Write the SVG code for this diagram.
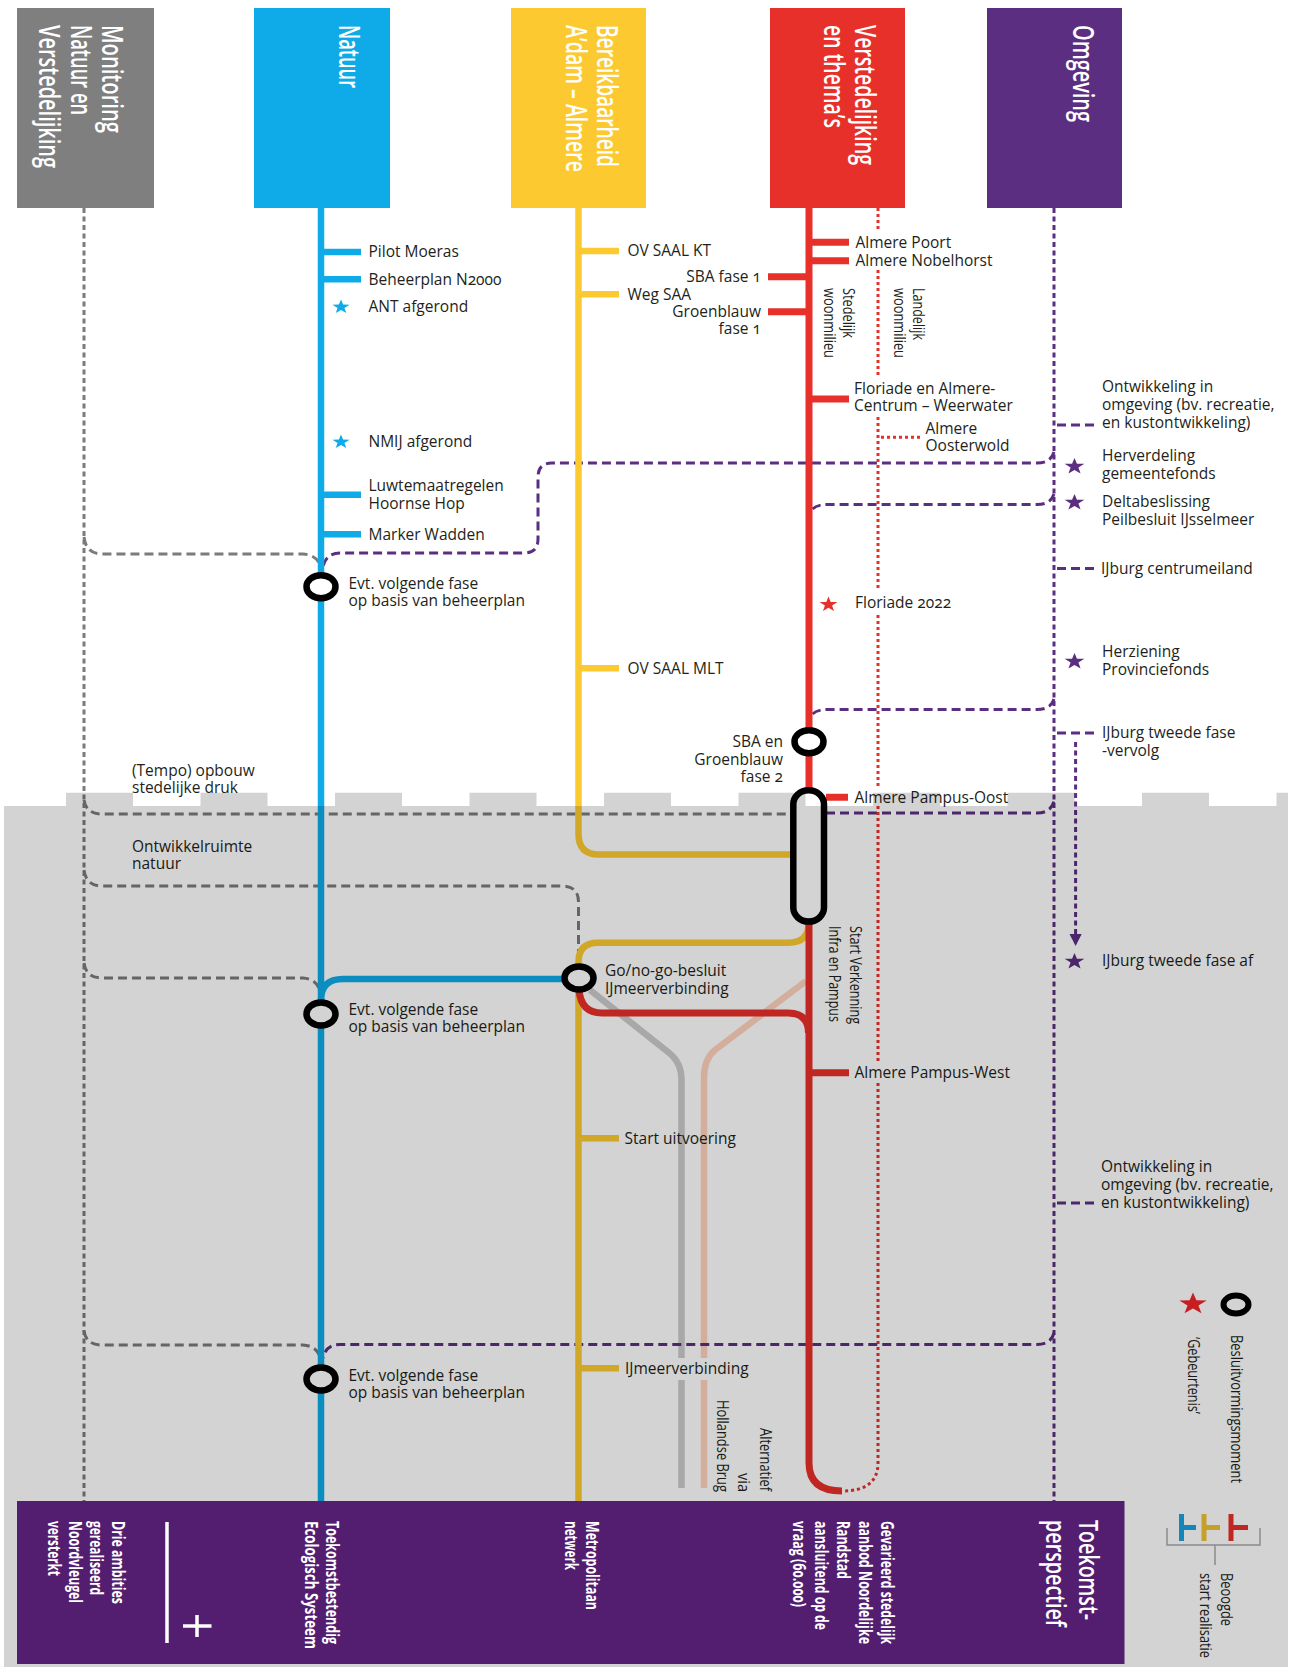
<svg xmlns="http://www.w3.org/2000/svg" xmlns:xlink="http://www.w3.org/1999/xlink" width="1296" height="1667" viewBox="0 0 1296 1667">
<defs>
<style>
.lbl{font-family:"Open Sans","Liberation Sans",sans-serif;font-size:15.5px;fill:#231f20}
.end{text-anchor:end}
.rot{font-family:"Open Sans","Liberation Sans",sans-serif;font-size:16px;fill:#231f20}
.hdr{font-family:"Open Sans","Liberation Sans",sans-serif;font-size:28px;font-weight:600;fill:#fff}
.ftr{font-family:"Open Sans","Liberation Sans",sans-serif;font-size:17px;font-weight:700;fill:#fff}
.ftrb{font-family:"Open Sans","Liberation Sans",sans-serif;font-size:27px;font-weight:600;fill:#fff}
.blue{stroke:#0fabe8;stroke-width:6.5;fill:none}
.yel{stroke:#fcca30;stroke-width:6.5;fill:none}
.red{stroke:#e8302a;stroke-width:7;fill:none}
.gv{stroke:#7b7b7b;stroke-width:3;stroke-dasharray:5 3.5;fill:none}
.gh{stroke:#7b7b7b;stroke-width:3;stroke-dasharray:9 5;fill:none}
.pv{stroke:#5c2e82;stroke-width:3;stroke-dasharray:5 3.5;fill:none}
.ph{stroke:#5c2e82;stroke-width:3;stroke-dasharray:9 5;fill:none}
.rdot{stroke:#e8302a;stroke-width:3;stroke-dasharray:3 3;fill:none}
.alt1{stroke:#cbcbcb;stroke-width:6.5;fill:none}
.alt2{stroke:#ffd3bd;stroke-width:6.5;fill:none}
.ring{fill:#fff;stroke:#000;stroke-width:6.5}
</style>
<path id="star" d="M0,-9 L2.12,-2.91 L8.56,-2.78 L3.42,1.11 L5.29,7.28 L0,3.6 L-5.29,7.28 L-3.42,1.11 L-8.56,-2.78 L-2.12,-2.91 Z"/>
</defs>
<rect width="1296" height="1667" fill="#fff"/>

<!-- header nodes -->
<g id="hdr-monitoring">
<rect x="17" y="8" width="137" height="200" fill="#7f7f7f"/>
<text class="hdr" transform="translate(102,25) rotate(90)" textLength="108" lengthAdjust="spacingAndGlyphs">Monitoring</text>
<text class="hdr" transform="translate(71,25) rotate(90)" textLength="90" lengthAdjust="spacingAndGlyphs">Natuur en</text>
<text class="hdr" transform="translate(39,25) rotate(90)" textLength="143" lengthAdjust="spacingAndGlyphs">Verstedelijking</text>
</g>
<g id="hdr-natuur">
<rect x="254" y="8" width="136" height="200" fill="#0fabe8"/>
<text class="hdr" transform="translate(339,25) rotate(90)" textLength="63" lengthAdjust="spacingAndGlyphs">Natuur</text>
</g>
<g id="hdr-bereikbaarheid">
<rect x="511" y="8" width="135" height="200" fill="#fcca30"/>
<text class="hdr" transform="translate(597,25) rotate(90)" textLength="142" lengthAdjust="spacingAndGlyphs">Bereikbaarheid</text>
<text class="hdr" transform="translate(566,25) rotate(90)" textLength="147" lengthAdjust="spacingAndGlyphs">A’dam – Almere</text>
</g>
<g id="hdr-verstedelijking">
<rect x="770" y="8" width="135" height="200" fill="#e8302a"/>
<text class="hdr" transform="translate(855,25) rotate(90)" textLength="140" lengthAdjust="spacingAndGlyphs">Verstedelijking</text>
<text class="hdr" transform="translate(824,25) rotate(90)" textLength="103" lengthAdjust="spacingAndGlyphs">en thema’s</text>
</g>
<g id="hdr-omgeving">
<rect x="987" y="8" width="135" height="200" fill="#5c2e82"/>
<text class="hdr" transform="translate(1073,25) rotate(90)" textLength="97" lengthAdjust="spacingAndGlyphs">Omgeving</text>
</g>

<!-- connectors -->
<g id="connectors">
<path class="alt1" d="M590,990 L668,1052 Q681.5,1062 681.5,1080 V1358 M681.5,1380 V1488"/>
<path class="alt2" d="M806,981 L715,1050 Q704,1059 704,1078 V1358 M704,1380 V1488"/>

<line class="gv" x1="84" y1="208" x2="84" y2="1501"/>
<path class="gh" d="M84,537 Q86,554 102,554 H303 Q318,555 321,568"/>
<path class="gh" d="M84,800 Q86,814 102,814 H793"/>
<path class="gh" d="M84,870 Q86,886 102,886 H562 Q578.5,886 578.5,902 V953"/>
<path class="gh" d="M84,963 Q86,978 102,978 H303 Q318,979 321,994"/>
<path class="gh" d="M84,1331 Q86,1345 102,1345 H303 Q318,1346 321,1360"/>

<line class="pv" x1="1054" y1="208" x2="1054" y2="1501"/>
<path class="ph" d="M1057,425 H1097"/>
<path class="ph" d="M1054,452 Q1051,463 1037,463 H552 Q538,463 538,477 V539 Q538,553 524,553 H340 Q326,553 323,567"/>
<path class="ph" d="M1054,494 Q1051,504.5 1037,504.5 H828 Q812,504.5 810,514"/>
<path class="ph" d="M1057,568.5 H1097"/>
<path class="ph" d="M1054,699 Q1051,709.5 1037,709.5 H828 Q812,709.5 810,719"/>
<path class="ph" d="M1057,733 H1097"/>
<line class="pv" x1="1075.6" y1="742" x2="1075.6" y2="934"/>
<polygon points="1069.5,934 1081.7,934 1075.6,946" fill="#5c2e82"/>
<path class="ph" d="M826,813 H1037 Q1051,813 1054,801"/>
<path class="ph" d="M1057,1203 H1097"/>
<path class="ph" d="M1054,1333 Q1051,1344.5 1037,1344.5 H340 Q326,1344.5 323,1358"/>

<line class="blue" x1="321" y1="208" x2="321" y2="1501"/>
<path class="blue" d="M321,1000 Q321,979 343,979 H566"/>
<path class="blue" d="M321,252 H361 M321,279.3 H361 M321,494.7 H361 M321,534.3 H361"/>

<path class="yel" d="M578.5,208 V834 Q578.5,854.5 599,854.5 H793"/>
<path class="yel" d="M808.5,924 Q808.5,942.7 788,942.7 H598 Q578.5,942.7 578.5,962 V1501"/>
<path class="yel" d="M578.5,251 H619 M578.5,294.3 H619 M578.5,668.3 H619 M578.5,1138.3 H619 M578.5,1368.3 H619"/>

<path class="red" d="M809,208 V790"/>
<path class="red" d="M809,924 V1463 Q809,1491 842,1491"/>
<path class="red" d="M579,990 Q581,1013 602,1013 H788 Q808.5,1013 808.5,1033"/>
<path class="red" d="M809,242.3 H849 M809,260.7 H849 M809,399 H849 M826,797.3 H848 M809,1072.7 H849 M768,276.7 H809 M768,311.7 H809"/>
<path class="rdot" d="M878,208 V230 M878,270 V377 M878,417 V588 M878,615 V788 M878,806 V1061 M878,1083 V1463 Q878,1491 842,1491"/>
<path class="rdot" d="M881,437.3 H920"/>
</g>

<!-- nodes / decision moments -->
<g id="node-evt1"><ellipse class="ring" cx="321" cy="586.7" rx="14.5" ry="11.5"/></g>
<g id="node-evt2"><ellipse class="ring" cx="321" cy="1014" rx="14.5" ry="11.5"/></g>
<g id="node-evt3"><ellipse class="ring" cx="321" cy="1379" rx="14.5" ry="11.5"/></g>
<g id="node-gonogo"><ellipse class="ring" cx="579" cy="978" rx="14.5" ry="11.5"/></g>
<g id="node-sba2"><ellipse class="ring" cx="809" cy="741.7" rx="14.5" ry="11.5"/></g>
<g id="node-pampus"><rect class="ring" x="793.3" y="790.3" width="30.7" height="131.3" rx="15.3" ry="14"/></g>

<g id="stars">
<use xlink:href="#star" href="#star" transform="translate(341,307) scale(1,0.82)" fill="#0fabe8"/>
<use xlink:href="#star" href="#star" transform="translate(341,442) scale(1,0.82)" fill="#0fabe8"/>
<use xlink:href="#star" href="#star" transform="translate(1074.5,466.5) scale(1.15,0.95)" fill="#5c2e82"/>
<use xlink:href="#star" href="#star" transform="translate(1074.5,502.5) scale(1.15,0.95)" fill="#5c2e82"/>
<use xlink:href="#star" href="#star" transform="translate(1074.5,661.5) scale(1.15,0.95)" fill="#5c2e82"/>
<use xlink:href="#star" href="#star" transform="translate(1074.5,961.5) scale(1.15,0.95)" fill="#5c2e82"/>
<use xlink:href="#star" href="#star" transform="translate(828.5,604.5) scale(1.05,0.88)" fill="#e8302a"/>
</g>

<!-- labels -->
<g id="labels">
<text class="lbl" x="368.5" y="257">Pilot Moeras</text>
<text class="lbl" x="368.5" y="284.5" style="font-variant-numeric:oldstyle-nums">Beheerplan N2000</text>
<text class="lbl" x="368.5" y="312">ANT afgerond</text>
<text class="lbl" x="368.5" y="447">NMIJ afgerond</text>
<text class="lbl" x="368.5" y="491">Luwtemaatregelen</text>
<text class="lbl" x="368.5" y="508.5">Hoornse Hop</text>
<text class="lbl" x="368.5" y="539.5">Marker Wadden</text>
<text class="lbl" x="348.5" y="588.5">Evt. volgende fase</text>
<text class="lbl" x="348.5" y="606">op basis van beheerplan</text>
<text class="lbl" x="348.5" y="1014.5">Evt. volgende fase</text>
<text class="lbl" x="348.5" y="1032">op basis van beheerplan</text>
<text class="lbl" x="348.5" y="1380.5">Evt. volgende fase</text>
<text class="lbl" x="348.5" y="1398">op basis van beheerplan</text>
<text class="lbl" x="132" y="775.5">(Tempo) opbouw</text>
<text class="lbl" x="132" y="793">stedelijke druk</text>
<text class="lbl" x="132" y="851.5">Ontwikkelruimte</text>
<text class="lbl" x="132" y="869">natuur</text>

<text class="lbl" x="627.5" y="256">OV SAAL KT</text>
<text class="lbl" x="627.5" y="300">Weg SAA</text>
<text class="lbl" x="627.5" y="673.5">OV SAAL MLT</text>
<text class="lbl" x="605" y="976">Go/no-go-besluit</text>
<text class="lbl" x="605" y="993.5">IJmeerverbinding</text>
<text class="lbl" x="624.5" y="1143.5">Start uitvoering</text>
<text class="lbl" x="625" y="1373.5">IJmeerverbinding</text>

<text class="lbl" x="855.5" y="247.5">Almere Poort</text>
<text class="lbl" x="855.5" y="266">Almere Nobelhorst</text>
<text class="lbl end" x="761" y="282" style="font-variant-numeric:oldstyle-nums">SBA fase 1</text>
<text class="lbl end" x="761" y="317">Groenblauw</text>
<text class="lbl end" x="761" y="334" style="font-variant-numeric:oldstyle-nums">fase 1</text>
<text class="lbl" x="854" y="393.5">Floriade en Almere-</text>
<text class="lbl" x="854" y="411">Centrum – Weerwater</text>
<text class="lbl" x="925.5" y="433.5">Almere</text>
<text class="lbl" x="925.5" y="451">Oosterwold</text>
<text class="lbl" x="855" y="608" style="font-variant-numeric:oldstyle-nums">Floriade 2022</text>
<text class="lbl end" x="783" y="747">SBA en</text>
<text class="lbl end" x="783" y="764.5">Groenblauw</text>
<text class="lbl end" x="783" y="782" style="font-variant-numeric:oldstyle-nums">fase 2</text>
<text class="lbl" x="854.5" y="802.5">Almere Pampus-Oost</text>
<text class="lbl" x="854.5" y="1078">Almere Pampus-West</text>

<text class="lbl" x="1102" y="392">Ontwikkeling in</text>
<text class="lbl" x="1102" y="410">omgeving (bv. recreatie,</text>
<text class="lbl" x="1102" y="428">en kustontwikkeling)</text>
<text class="lbl" x="1102" y="461">Herverdeling</text>
<text class="lbl" x="1102" y="478.5">gemeentefonds</text>
<text class="lbl" x="1102" y="507">Deltabeslissing</text>
<text class="lbl" x="1102" y="524.5">Peilbesluit IJsselmeer</text>
<text class="lbl" x="1101" y="574">IJburg centrumeiland</text>
<text class="lbl" x="1102" y="657">Herziening</text>
<text class="lbl" x="1102" y="674.5">Provinciefonds</text>
<text class="lbl" x="1102" y="738">IJburg tweede fase</text>
<text class="lbl" x="1102" y="755.5">-vervolg</text>
<text class="lbl" x="1102" y="966">IJburg tweede fase af</text>
<text class="lbl" x="1101" y="1171.5">Ontwikkeling  in</text>
<text class="lbl" x="1101" y="1189.5">omgeving (bv. recreatie,</text>
<text class="lbl" x="1101" y="1208">en  kustontwikkeling)</text>

<text class="rot" transform="translate(843,288) rotate(90)" textLength="50" lengthAdjust="spacingAndGlyphs">Stedelijk</text>
<text class="rot" transform="translate(824,288) rotate(90)" textLength="70" lengthAdjust="spacingAndGlyphs">woonmilieu</text>
<text class="rot" transform="translate(913,288) rotate(90)" textLength="52" lengthAdjust="spacingAndGlyphs">Landelijk</text>
<text class="rot" transform="translate(894,288) rotate(90)" textLength="70" lengthAdjust="spacingAndGlyphs">woonmilieu</text>
<text class="rot" transform="translate(850,926) rotate(90)" textLength="98" lengthAdjust="spacingAndGlyphs">Start Verkenning</text>
<text class="rot" transform="translate(829,926) rotate(90)" textLength="96" lengthAdjust="spacingAndGlyphs">Infra en Pampus</text>
<text class="rot" transform="translate(759.5,1428) rotate(90)" textLength="63" lengthAdjust="spacingAndGlyphs">Alternatief</text>
<text class="rot" transform="translate(738,1473) rotate(90)" textLength="19" lengthAdjust="spacingAndGlyphs">via</text>
<text class="rot" transform="translate(716.5,1400) rotate(90)" textLength="92" lengthAdjust="spacingAndGlyphs">Hollandse Brug</text>
</g>

<!-- legend -->
<g id="legend">
<use xlink:href="#star" href="#star" transform="translate(1193,1304) scale(1.6,1.28)" fill="#f0262a"/>
<ellipse cx="1236" cy="1304.5" rx="12.5" ry="9" fill="none" stroke="#000" stroke-width="6"/>
<text class="rot" transform="translate(1231,1335) rotate(90)" textLength="148" lengthAdjust="spacingAndGlyphs">Besluitvormingsmoment</text>
<text class="rot" transform="translate(1188,1337) rotate(90)" textLength="77" lengthAdjust="spacingAndGlyphs">‘Gebeurtenis’</text>
<path d="M1181.5,1514 V1541 M1181.5,1527.5 H1196" stroke="#1aa2e0" stroke-width="5" fill="none"/>
<path d="M1204,1514 V1541 M1204,1527.5 H1220" stroke="#f0c232" stroke-width="5" fill="none"/>
<path d="M1231,1514 V1541 M1231,1527.5 H1248" stroke="#e8302a" stroke-width="5" fill="none"/>
<path d="M1167,1528 V1545 H1260 V1528 M1215,1545 V1565" stroke="#a9a9a9" stroke-width="1.5" fill="none"/>
<text class="rot" transform="translate(1221,1573) rotate(90)" textLength="53" lengthAdjust="spacingAndGlyphs">Beoogde</text>
<text class="rot" transform="translate(1200,1573) rotate(90)" textLength="85" lengthAdjust="spacingAndGlyphs">start realisatie</text>
</g>

<!-- future zone (gray, crenellated) -->
<path id="future-zone" fill="#000" fill-opacity="0.173" d="M4,806 H66 V792.7 H133 V806 H200.5 V792.7 H267.5 V806 H335 V792.7 H402 V806 H469.5 V792.7 H536.5 V806 H604 V792.7 H671 V806 H738.5 V792.7 H805.5 V806 H873 V792.7 H940 V806 H1007.5 V792.7 H1074.5 V806 H1142 V792.7 H1209 V806 H1276.5 V792.7 H1288 V1667 H4 Z"/>

<!-- footer -->
<g id="footer">
<rect x="17" y="1501" width="1107.5" height="163" fill="#531e6f"/>
<text class="ftr" transform="translate(112,1521) rotate(90)" textLength="83" lengthAdjust="spacingAndGlyphs">Drie ambities</text>
<text class="ftr" transform="translate(90,1521) rotate(90)" textLength="74" lengthAdjust="spacingAndGlyphs">gerealiseerd</text>
<text class="ftr" transform="translate(69,1521) rotate(90)" textLength="82" lengthAdjust="spacingAndGlyphs">Noordvleugel</text>
<text class="ftr" transform="translate(48,1521) rotate(90)" textLength="55" lengthAdjust="spacingAndGlyphs">versterkt</text>
<path d="M167,1522 V1643 M183,1626 H211.5 M197,1615 V1637" stroke="#fff" stroke-width="3.5" fill="none"/>
<text class="ftr" transform="translate(326,1521) rotate(90)" textLength="123" lengthAdjust="spacingAndGlyphs">Toekomstbestendig</text>
<text class="ftr" transform="translate(305,1521) rotate(90)" textLength="128" lengthAdjust="spacingAndGlyphs">Ecologisch Systeem</text>
<text class="ftr" transform="translate(586,1521) rotate(90)" textLength="89" lengthAdjust="spacingAndGlyphs">Metropolitaan</text>
<text class="ftr" transform="translate(565,1521) rotate(90)" textLength="49" lengthAdjust="spacingAndGlyphs">netwerk</text>
<text class="ftr" transform="translate(881,1521) rotate(90)" textLength="123" lengthAdjust="spacingAndGlyphs">Gevarieerd stedelijk</text>
<text class="ftr" transform="translate(859,1521) rotate(90)" textLength="123" lengthAdjust="spacingAndGlyphs">aanbod Noordelijke</text>
<text class="ftr" transform="translate(837,1521) rotate(90)" textLength="58" lengthAdjust="spacingAndGlyphs">Randstad</text>
<text class="ftr" transform="translate(815,1521) rotate(90)" textLength="109" lengthAdjust="spacingAndGlyphs">aansluitend op de</text>
<text class="ftr" transform="translate(793,1521) rotate(90)" textLength="86" lengthAdjust="spacingAndGlyphs" style="font-variant-numeric:oldstyle-nums">vraag (60.000)</text>
<text class="ftrb" transform="translate(1079,1520) rotate(90)" textLength="100" lengthAdjust="spacingAndGlyphs">Toekomst-</text>
<text class="ftrb" transform="translate(1046,1520) rotate(90)" textLength="107" lengthAdjust="spacingAndGlyphs">perspectief</text>
</g>
</svg>
